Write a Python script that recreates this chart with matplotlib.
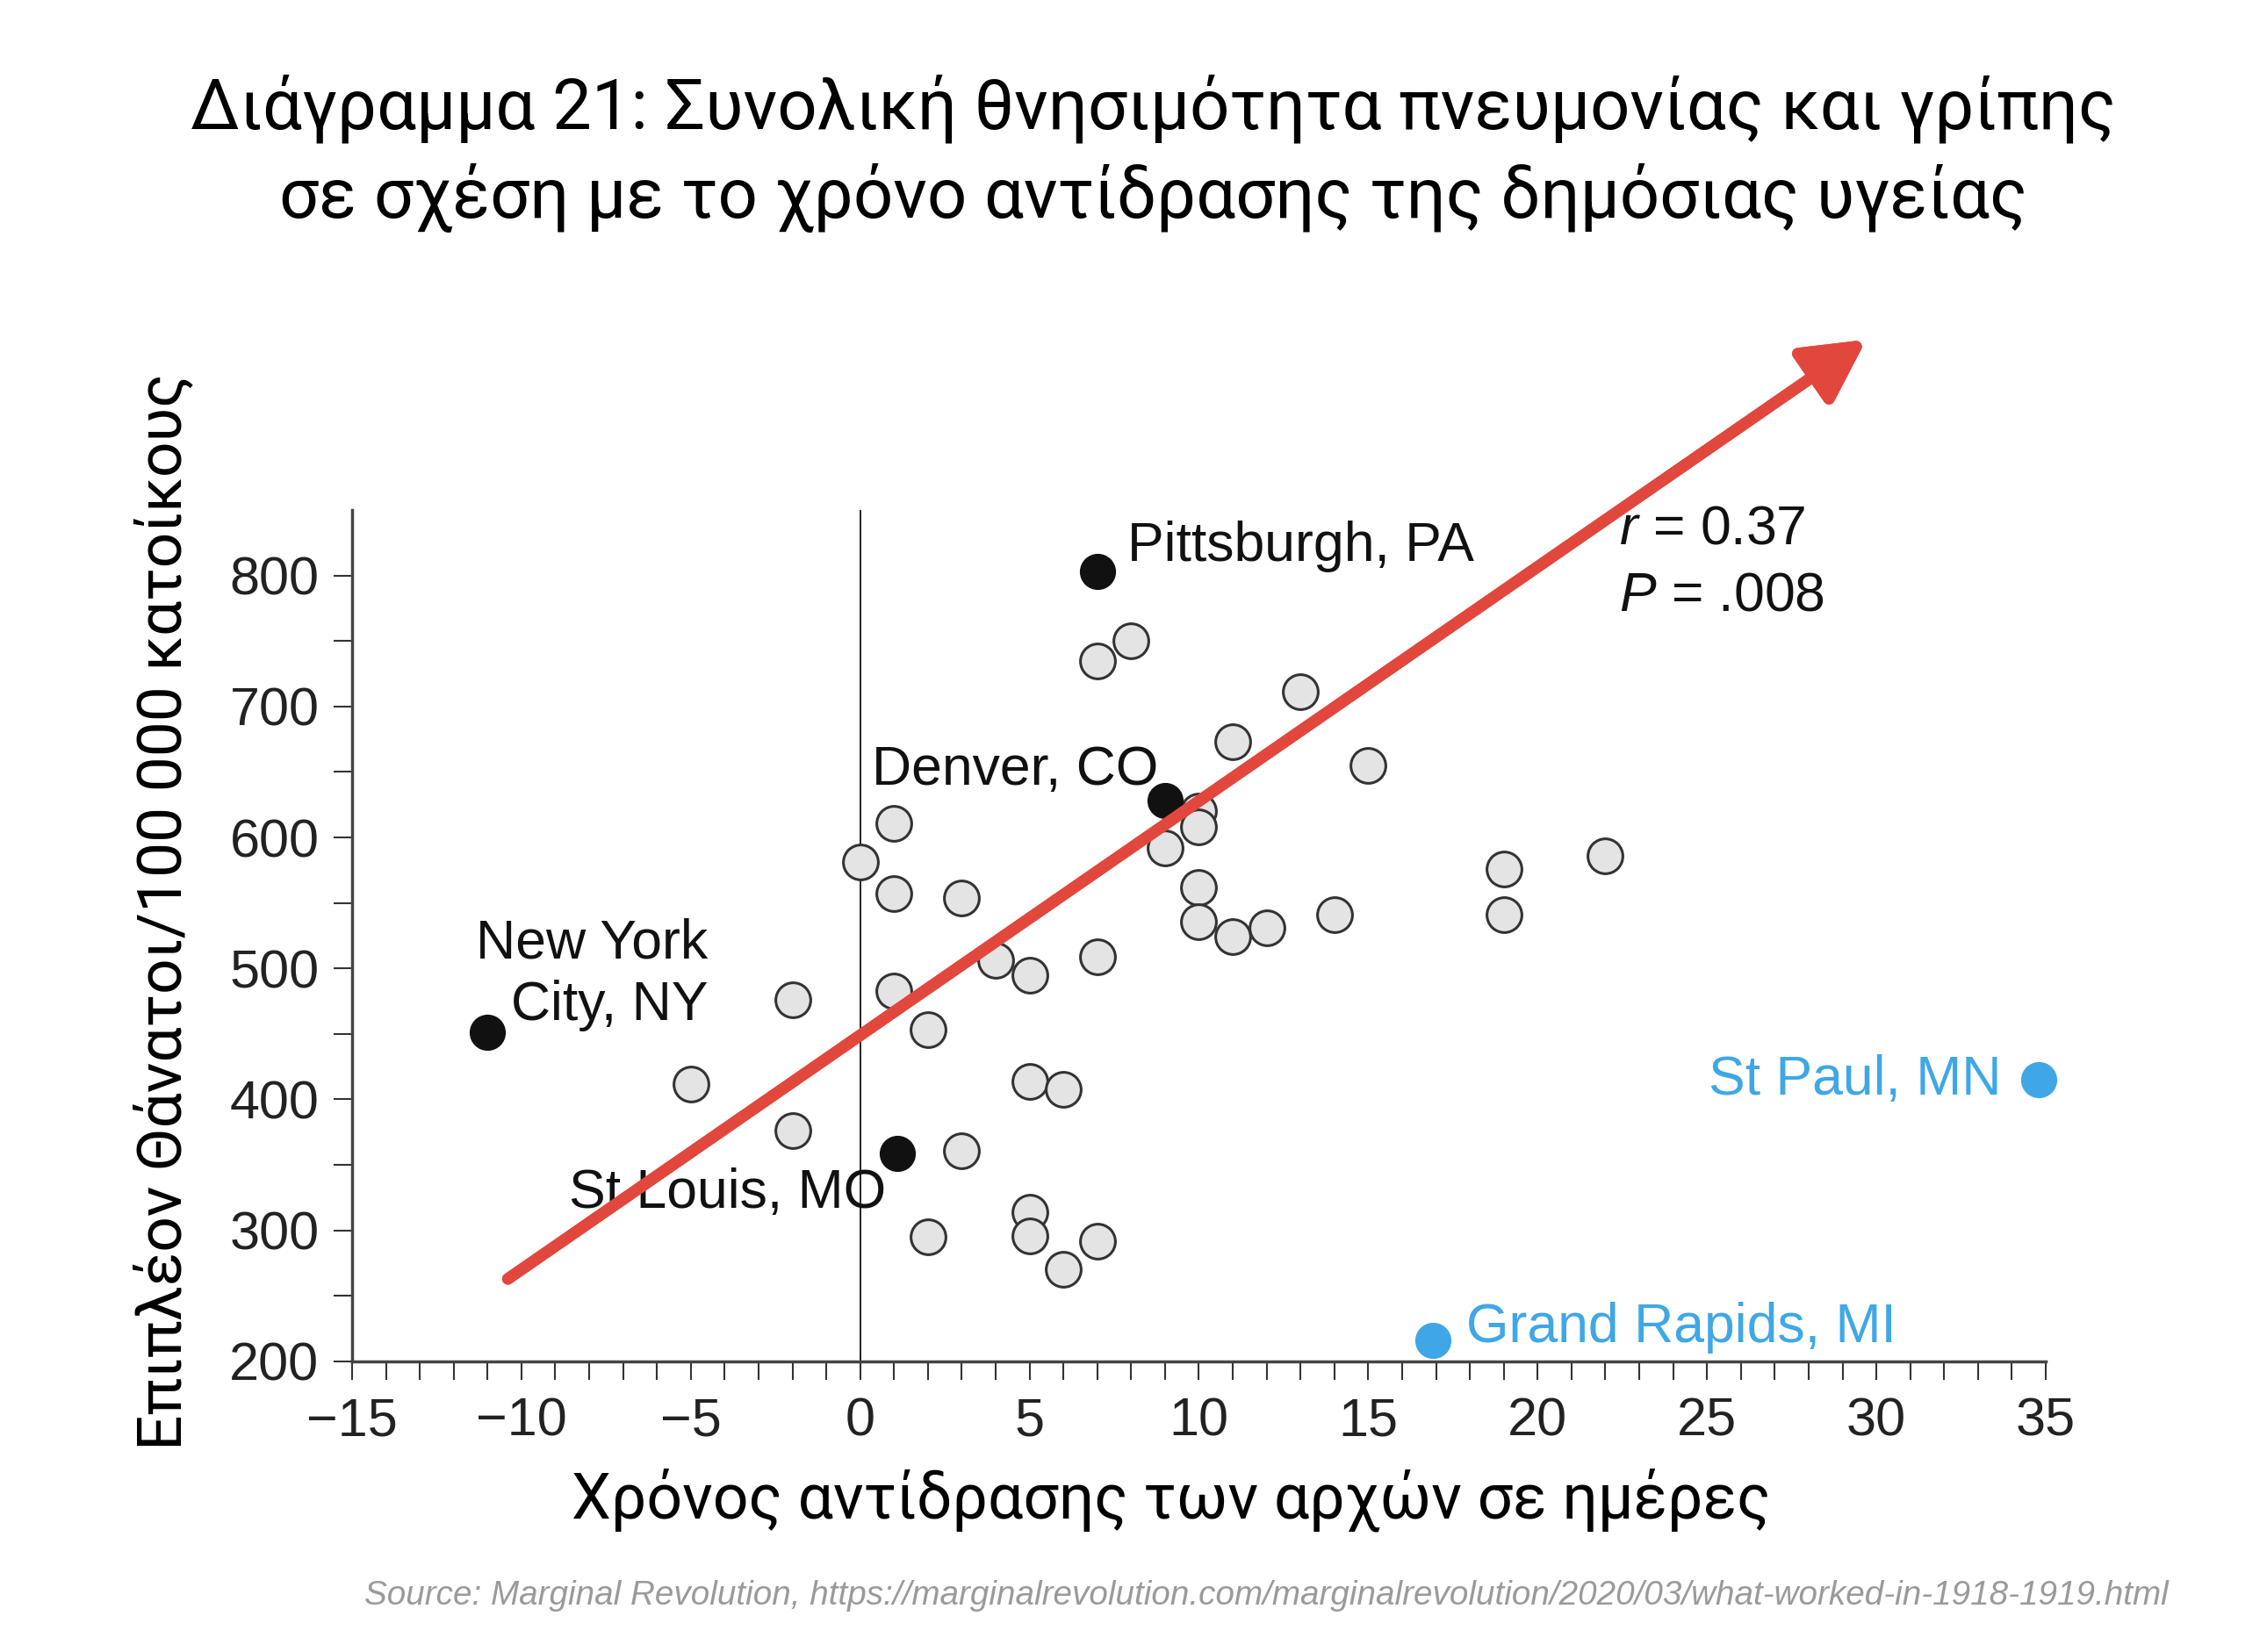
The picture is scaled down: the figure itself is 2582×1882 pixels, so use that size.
import matplotlib
matplotlib.use("Agg")
import matplotlib.pyplot as plt
import matplotlib.patheffects as pe
import numpy as np

# ---- data ----
gray_x = [8, 7, 13, 11, 15, 1, 0, 10, 10, 9, 10, 10, 11, 12, 14, 19, 19, 22,
          1, 3, 4, 5, 7, 1, -2, 2, -5, 5, 6, -2, 3, 5, 5, 2, 7, 6]
gray_y = [750, 735, 711, 673, 655, 611, 581, 620, 608, 592, 562, 536, 524, 531, 541, 576, 541, 586,
          557, 554, 506, 495, 509, 483, 476, 453, 412, 414, 408, 376, 361, 314, 296, 295, 292, 270]

black_names = ["Pittsburgh, PA", "Denver, CO", "New York\nCity, NY", "St Louis, MO"]
black_x = [7, 9, -11, 1.1]
black_y = [803, 628, 451, 359]

blue_names = ["St Paul, MN", "Grand Rapids, MI"]
blue_x = [34.8, 16.9]
blue_y = [415, 216]

trend_x = [-10.4, 29.7]
trend_y = [263, 980]

x_ticks = [-15, -10, -5, 0, 5, 10, 15, 20, 25, 30, 35]
y_ticks = [200, 300, 400, 500, 600, 700, 800]

title_lines = ["Διάγραμμα 21: Συνολική θνησιμότητα πνευμονίας και γρίπης",
               "σε σχέση με το χρόνο αντίδρασης της δημόσιας υγείας"]
xlabel = "Χρόνος αντίδρασης των αρχών σε ημέρες"
ylabel = "Επιπλέον Θάνατοι/100 000 κατοίκους"
source = "Source: Marginal Revolution, https://marginalrevolution.com/marginalrevolution/2020/03/what-worked-in-1918-1919.html"

plt.rcParams['mathtext.fontset'] = 'custom'
plt.rcParams['mathtext.it'] = 'Liberation Sans:italic'
plt.rcParams['mathtext.rm'] = 'Liberation Sans'

HF = 'Liberation Sans'
GF = 'Roboto'
BLUE = '#3fa7e6'
RED = '#e2473d'

fig = plt.figure(figsize=(25.82, 18.82), dpi=100)
ax = fig.add_axes([0.1553, 0.1759, 0.7471, 0.5154])
ax.set_xlim(-15, 35)
ax.set_ylim(200, 850)

for s in ['top', 'right']:
    ax.spines[s].set_visible(False)
for s in ['left', 'bottom']:
    ax.spines[s].set_color('#444444')
    ax.spines[s].set_linewidth(2.5)

ax.set_xticks(x_ticks)
ax.set_xticks(np.arange(-15, 36, 1), minor=True)
ax.set_yticks(y_ticks)
ax.set_yticks(np.arange(250, 800, 100), minor=True)
ax.tick_params(which='both', direction='out', length=15, width=1.5, color='#333333')
ax.tick_params(axis='x', which='major', pad=14)
ax.tick_params(axis='y', which='major', pad=12)
for lab in ax.get_xticklabels() + ax.get_yticklabels():
    lab.set_fontfamily(HF)
    lab.set_fontsize(44)
    lab.set_color('#222222')

ax.axvline(0, color='#222222', lw=1.4, zorder=1)

ax.scatter(gray_x, gray_y, s=820, facecolor='#e4e4e4', edgecolor='#333333', linewidth=2.2, zorder=3, clip_on=False)
ax.scatter(black_x, black_y, s=820, facecolor='#111111', edgecolor='#111111', linewidth=1, zorder=4, clip_on=False)
ax.scatter(blue_x, blue_y, s=820, facecolor=BLUE, edgecolor=BLUE, linewidth=1, zorder=4, clip_on=False)

# labels for highlighted cities
ax.text(7.9, 822, black_names[0], fontsize=45, family=HF, ha='left', va='center', color='#111111', zorder=5)
ax.text(0.35, 651, black_names[1], fontsize=45, family=HF, ha='left', va='center', color='#111111', zorder=5)
ax.text(-4.5, 495, black_names[2], fontsize=45, family=HF, ha='right', va='center', multialignment='right',
        color='#111111', zorder=5, linespacing=1.25)
ax.text(-8.6, 328, black_names[3], fontsize=45, family=HF, ha='left', va='center', color='#111111', zorder=2)
ax.text(33.7, 415, blue_names[0], fontsize=45, family=HF, ha='right', va='center', color=BLUE, zorder=5)
ax.text(17.9, 226, blue_names[1], fontsize=45, family=HF, ha='left', va='center', color=BLUE, zorder=5)

ax.text(22.4, 835, r"$r$ = 0.37", fontsize=45, family=HF, ha='left', va='center', color='#111111', zorder=5)
ax.text(22.4, 784, r"$P$ = .008", fontsize=45, family=HF, ha='left', va='center', color='#111111', zorder=5)

# trend arrow
ann = ax.annotate('', xy=(trend_x[1], trend_y[1]), xytext=(trend_x[0], trend_y[0]),
                  xycoords='data', textcoords='data', annotation_clip=False,
                  arrowprops=dict(arrowstyle='-|>,head_length=0.85,head_width=0.45', mutation_scale=50,
                                  lw=9.5, color=RED, shrinkA=0, shrinkB=0, capstyle='round'),
                  zorder=6)
ann.arrow_patch.set_path_effects([pe.withSimplePatchShadow(offset=(3, -3), shadow_rgbFace='#888888', alpha=0.5), pe.Normal()])
ann.arrow_patch.set_clip_on(False)

fig.text(0.5086, 0.9344, title_lines[0], fontsize=57.3, family=GF, ha='center', va='center', color='#000000')
fig.text(0.5086, 0.8801, title_lines[1], fontsize=57.3, family=GF, ha='center', va='center', color='#000000')
fig.text(0.5166, 0.0919, xlabel, fontsize=51.5, family=GF, ha='center', va='center', color='#000000')
fig.text(0.072, 0.448, ylabel, fontsize=51.3, family=GF, ha='center', va='center', rotation=90, color='#000000')
fig.text(0.9566, 0.034, source, fontsize=27.8, family=HF, style='italic', ha='right', va='center', color='#9a9a9a')

fig.savefig('out.png', dpi=100)
